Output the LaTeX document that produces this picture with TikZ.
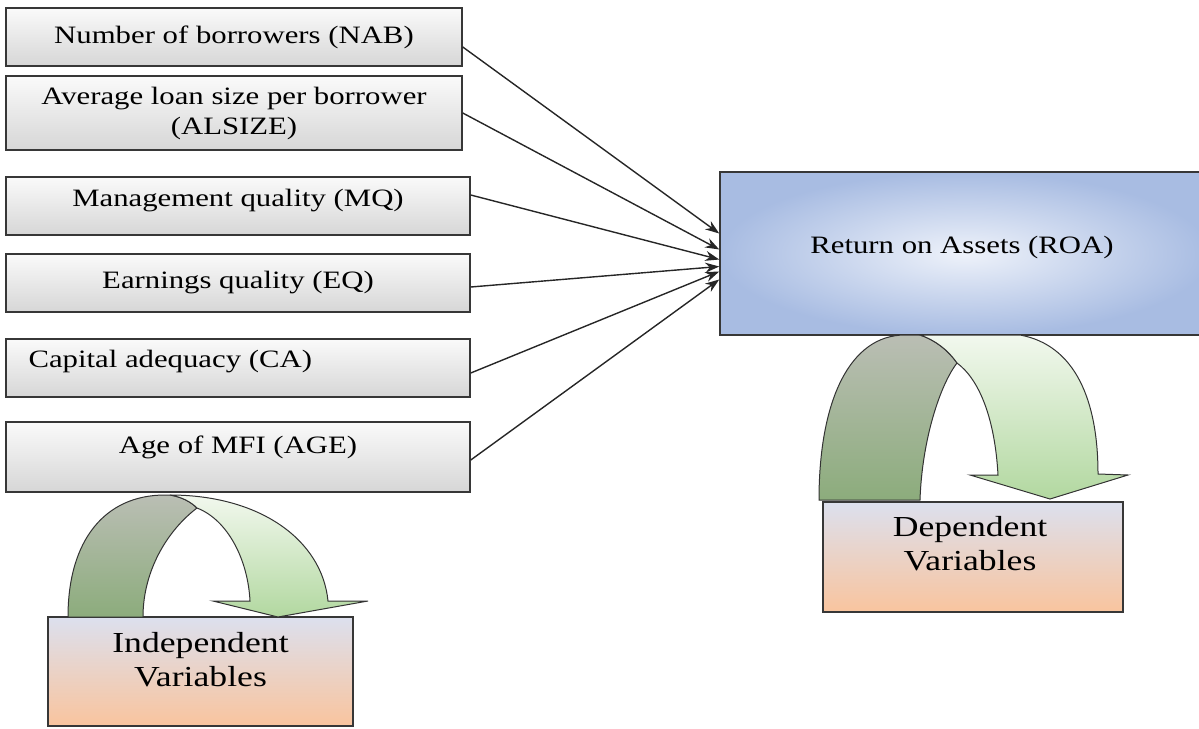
\documentclass[tikz,border=0pt]{standalone}
\usepackage{fontspec}
\setmainfont{Liberation Serif}[FakeStretch=1.23]
\usetikzlibrary{arrows.meta}

\definecolor{edge}{RGB}{55,55,55}
\definecolor{roain}{RGB}{238,242,250}
\definecolor{roaout}{RGB}{168,188,226}
\definecolor{vartop}{RGB}{220,224,238}
\definecolor{varbot}{RGB}{249,196,158}
\definecolor{darktop}{RGB}{186,190,180}
\definecolor{darkbot}{RGB}{140,172,124}
\definecolor{lighttop}{RGB}{242,248,238}
\definecolor{lightbot}{RGB}{178,216,160}

\newcommand{\boxfont}{\fontsize{25}{30}\selectfont}
\newcommand{\bigfont}{\fontsize{29}{34}\selectfont}

\begin{document}
\begin{tikzpicture}[x=1pt,y=-1pt]
\tikzset{factor/.style={draw=edge,line width=1.5pt,top color=gray!4,bottom color=gray!32,
                        minimum height=58pt,inner sep=0pt,font=\boxfont,text=black},
         varbox/.style={draw=edge,line width=1.5pt,top color=vartop,bottom color=varbot,inner sep=0pt},
         arr/.style={-{Stealth[length=14pt,width=10pt]},line width=1.4pt,black!85},
         ribbon/.style={draw=black!80,line width=1pt}}
\useasboundingbox (0,0) rectangle (1199,728);

% independent variables on the left
\node[factor,minimum width=456pt] (nab) at (234,37) {Number of borrowers (NAB)};
\node[factor,minimum width=456pt,minimum height=74pt,align=center] (als) at (234,113)
     {Average loan size per borrower\\(ALSIZE)};
\node[factor,minimum width=464pt] (mq) at (238,206) {};
\node[font=\boxfont] (mqtxt) at (238,201) {Management quality (MQ)};
\node[factor,minimum width=464pt] (eq) at (238,283) {Earnings quality (EQ)};
\node[factor,minimum width=464pt] (ca) at (238,368) {};
\node[font=\boxfont,anchor=west] (catxt) at (25,362) {Capital adequacy (CA)};
\node[factor,minimum width=464pt,minimum height=70pt] (age) at (238,457) {};
\node[font=\boxfont] (agetxt) at (238,447) {Age of MFI (AGE)};

% dependent variable, cut by the right border
\node[draw=edge,line width=1.5pt,inner color=roain,outer color=roaout,
      minimum width=490pt,minimum height=163pt,inner sep=0pt] (roa) at (965,253.5) {};
\node[font=\boxfont] (roatxt) at (962,247) {Return on Assets (ROA)};

% arrows into ROA
\foreach \src/\sy/\ey in {nab/-10/20, als/0/4, mq/11/-6, eq/-4/-13, ca/-5/-18, age/-3/-26}
    \draw[arr] ([yshift=\sy]\src.east) -- ([yshift=\ey]roa.west);

% legend boxes
\node[varbox,minimum width=305pt,minimum height=109pt] (ind) at (200.5,671.5) {};
\node[font=\bigfont,align=center] (indtxt) at (200.5,660) {Independent\\Variables};
\node[varbox,minimum width=300pt,minimum height=110pt] (dep) at (973,557) {};
\node[font=\bigfont,align=center] (deptxt) at (970,544) {Dependent\\Variables};

% curved arrow over the independent box
\draw[ribbon,top color=darktop,bottom color=darkbot]
    (68,617) .. controls (68,540) and (105,495) .. (165,495) -- (170,495)
    .. controls (182,497) and (191,502) .. (197,508)
    .. controls (168,530) and (143,570) .. (143,617) -- cycle;
\draw[ribbon,top color=lighttop,bottom color=lightbot]
    (170,495) .. controls (260,495) and (322,540) .. (328,601) -- (368,601) -- (278,617)
    -- (213,601) -- (250,601) .. controls (248,560) and (228,520) .. (197,508)
    .. controls (191,502) and (182,497) .. (170,495) -- cycle;

% curved arrow over the dependent box
\draw[ribbon,top color=darktop,bottom color=darkbot]
    (819,500) .. controls (819,400) and (850,335) .. (905,335) -- (920,335)
    .. controls (935,340) and (948,350) .. (957,363)
    .. controls (940,385) and (922,440) .. (920,500) -- cycle;
\draw[ribbon,top color=lighttop,bottom color=lightbot]
    (920,335) -- (1020,335) .. controls (1075,345) and (1098,400) .. (1098,474)
    -- (1128,475) -- (1050,499) -- (970,475) -- (998,475)
    .. controls (995,420) and (980,380) .. (957,363)
    .. controls (948,350) and (935,340) .. (920,335) -- cycle;
\end{tikzpicture}
\end{document}
